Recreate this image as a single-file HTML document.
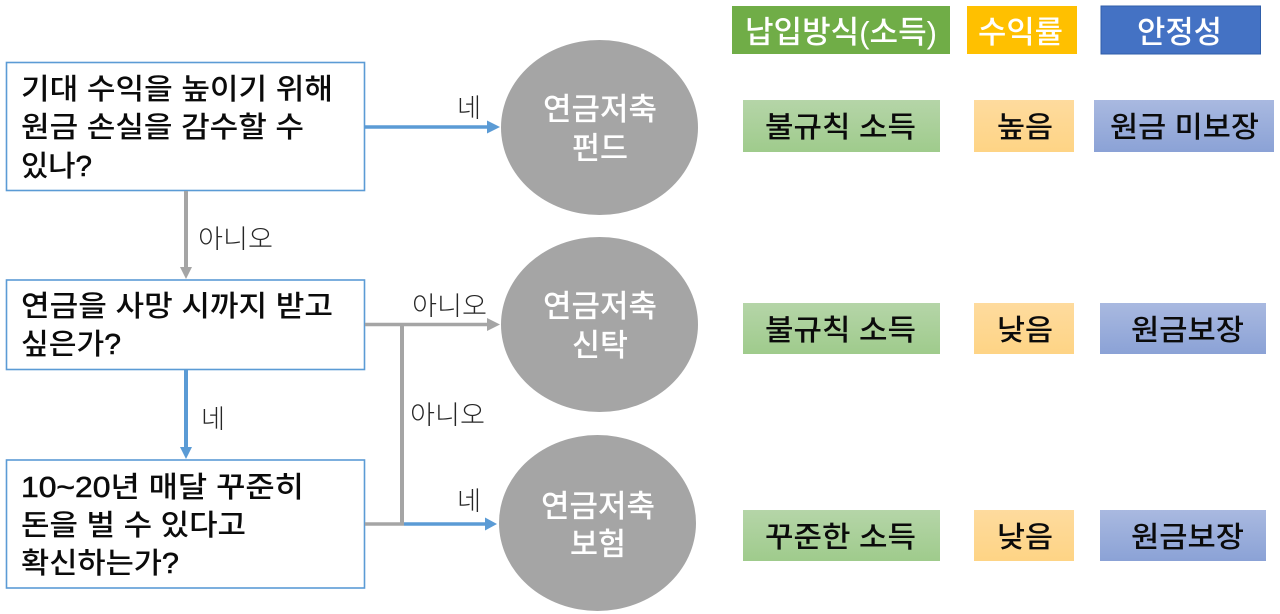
<!DOCTYPE html>
<html lang="ko"><head><meta charset="utf-8"><style>
html,body{margin:0;padding:0;background:#fff;width:1280px;height:614px;overflow:hidden}
svg{display:block}
text{font-family:"Liberation Sans","Noto Sans CJK KR",sans-serif}
.q{font-size:29px;font-weight:500;fill:#0b0b0b}
.m{stroke:#0b0b0b;stroke-width:.55px}
.l{font-size:26px;font-weight:300;fill:#262626}
.c{font-size:31px;font-weight:500;fill:#fff}
.h{font-size:31px;font-weight:500;fill:#fff}
.v{font-size:29px;font-weight:500;fill:#0b0b0b}
</style></head><body>
<svg width="1280" height="614" viewBox="0 0 1280 614" xmlns="http://www.w3.org/2000/svg">
<defs>
<linearGradient id="g" x1="0" y1="0" x2="0" y2="1"><stop offset="0" stop-color="#b5d5a8"/><stop offset="1" stop-color="#9fcb8c"/></linearGradient>
<linearGradient id="y" x1="0" y1="0" x2="0" y2="1"><stop offset="0" stop-color="#fedb9e"/><stop offset="1" stop-color="#fed485"/></linearGradient>
<linearGradient id="b" x1="0" y1="0" x2="0" y2="1"><stop offset="0" stop-color="#a9b9e0"/><stop offset="1" stop-color="#8ba2d6"/></linearGradient>
</defs>
<!-- decision boxes -->
<rect x="6.5" y="62.5" width="358" height="128" fill="#fff" stroke="#5b9bd5" stroke-width="1.6"/>
<rect x="6.5" y="280" width="358" height="89.5" fill="#fff" stroke="#5b9bd5" stroke-width="1.6"/>
<rect x="6.5" y="460" width="358" height="128" fill="#fff" stroke="#5b9bd5" stroke-width="1.6"/>
<text class="q" x="21" y="99" textLength="312" lengthAdjust="spacingAndGlyphs">기대 수익을 높이기 위해</text>
<text class="q" x="21" y="137" textLength="283" lengthAdjust="spacingAndGlyphs">원금 손실을 감수할 수</text>
<text class="q" x="21" y="176" textLength="71" lengthAdjust="spacingAndGlyphs">있나<tspan class="m">?</tspan></text>
<text class="q" x="21" y="316" textLength="312" lengthAdjust="spacingAndGlyphs">연금을 사망 시까지 받고</text>
<text class="q" x="21" y="354" textLength="100" lengthAdjust="spacingAndGlyphs">싶은가<tspan class="m">?</tspan></text>
<text class="q" x="21" y="497" textLength="283" lengthAdjust="spacingAndGlyphs"><tspan class="m">10~20</tspan>년 매달 꾸준히</text>
<text class="q" x="21" y="535" textLength="225" lengthAdjust="spacingAndGlyphs">돈을 벌 수 있다고</text>
<text class="q" x="21" y="573" textLength="158" lengthAdjust="spacingAndGlyphs">확신하는가<tspan class="m">?</tspan></text>
<!-- connectors -->
<line x1="186" y1="191" x2="186" y2="268" stroke="#a5a5a5" stroke-width="4"/>
<polygon points="180,267 192,267 186,279" fill="#a5a5a5"/>
<line x1="186" y1="370" x2="186" y2="448" stroke="#5b9bd5" stroke-width="4"/>
<polygon points="180,447 192,447 186,459" fill="#5b9bd5"/>
<line x1="365" y1="127" x2="489" y2="127" stroke="#5b9bd5" stroke-width="3.5"/>
<polygon points="487,120.500 487,133.500 500,127" fill="#5b9bd5"/>
<line x1="365" y1="324.500" x2="489" y2="324.500" stroke="#a5a5a5" stroke-width="3.5"/>
<polygon points="487,318 487,331 500,324.500" fill="#a5a5a5"/>
<line x1="402" y1="324" x2="402" y2="525" stroke="#a5a5a5" stroke-width="4"/>
<line x1="365" y1="524" x2="404" y2="524" stroke="#a5a5a5" stroke-width="3.5"/>
<line x1="404" y1="524" x2="487" y2="524" stroke="#5b9bd5" stroke-width="3.500"/>
<polygon points="485,517.500 485,530.500 497,524" fill="#5b9bd5"/>
<!-- connector labels -->
<text class="l" x="198" y="248" textLength="75" lengthAdjust="spacingAndGlyphs">아니오</text>
<text class="l" x="457" y="117" textLength="24" lengthAdjust="spacingAndGlyphs">네</text>
<text class="l" x="412" y="315" textLength="75" lengthAdjust="spacingAndGlyphs">아니오</text>
<text class="l" x="201" y="428" textLength="24" lengthAdjust="spacingAndGlyphs">네</text>
<text class="l" x="410" y="424" textLength="75" lengthAdjust="spacingAndGlyphs">아니오</text>
<text class="l" x="457" y="510" textLength="24" lengthAdjust="spacingAndGlyphs">네</text>
<!-- circles -->
<ellipse cx="599.500" cy="127.500" rx="98.500" ry="87.500" fill="#a5a5a5"/>
<ellipse cx="599.500" cy="324.500" rx="98.500" ry="87.500" fill="#a5a5a5"/>
<ellipse cx="597.500" cy="523" rx="98.500" ry="88" fill="#a5a5a5"/>
<text class="c" x="543" y="120" textLength="114" lengthAdjust="spacingAndGlyphs">연금저축</text>
<text class="c" x="572" y="159" textLength="56" lengthAdjust="spacingAndGlyphs">펀드</text>
<text class="c" x="543" y="317" textLength="114" lengthAdjust="spacingAndGlyphs">연금저축</text>
<text class="c" x="572" y="356" textLength="56" lengthAdjust="spacingAndGlyphs">신탁</text>
<text class="c" x="541" y="517" textLength="114" lengthAdjust="spacingAndGlyphs">연금저축</text>
<text class="c" x="570" y="555" textLength="56" lengthAdjust="spacingAndGlyphs">보험</text>
<!-- headers -->
<rect x="732" y="6" width="218" height="48" fill="#70ad47"/>
<rect x="967" y="6" width="110" height="48" fill="#ffc000"/>
<rect x="1101" y="6" width="159.500" height="48" fill="#4472c4" stroke="#2f5eaa" stroke-width="1"/>
<text class="h" x="745" y="43" textLength="192" lengthAdjust="spacingAndGlyphs">납입방식(소득)</text>
<text class="h" x="978" y="43" textLength="85" lengthAdjust="spacingAndGlyphs">수익률</text>
<text class="h" x="1137" y="43" textLength="85" lengthAdjust="spacingAndGlyphs">안정성</text>
<!-- row 1 -->
<rect x="743" y="100" width="197" height="52" fill="url(#g)"/>
<rect x="974" y="100" width="100" height="52" fill="url(#y)"/>
<rect x="1094" y="100" width="180" height="52" fill="url(#b)"/>
<text class="v" x="765" y="137" textLength="151" lengthAdjust="spacingAndGlyphs">불규칙 소득</text>
<text class="v" x="997" y="137" textLength="56" lengthAdjust="spacingAndGlyphs">높음</text>
<text class="v" x="1110" y="137" textLength="149" lengthAdjust="spacingAndGlyphs">원금 미보장</text>
<!-- row 2 -->
<rect x="743" y="303" width="197" height="51" fill="url(#g)"/>
<rect x="974" y="303" width="100" height="51" fill="url(#y)"/>
<rect x="1100" y="303" width="166" height="51" fill="url(#b)"/>
<text class="v" x="765" y="340" textLength="151" lengthAdjust="spacingAndGlyphs">불규칙 소득</text>
<text class="v" x="997" y="340" textLength="56" lengthAdjust="spacingAndGlyphs">낮음</text>
<text class="v" x="1131" y="340" textLength="113" lengthAdjust="spacingAndGlyphs">원금보장</text>
<!-- row 3 -->
<rect x="743" y="510" width="197" height="51" fill="url(#g)"/>
<rect x="974" y="510" width="100" height="51" fill="url(#y)"/>
<rect x="1100" y="510" width="166" height="51" fill="url(#b)"/>
<text class="v" x="765" y="547" textLength="151" lengthAdjust="spacingAndGlyphs">꾸준한 소득</text>
<text class="v" x="997" y="547" textLength="56" lengthAdjust="spacingAndGlyphs">낮음</text>
<text class="v" x="1131" y="547" textLength="113" lengthAdjust="spacingAndGlyphs">원금보장</text>
</svg>
</body></html>
